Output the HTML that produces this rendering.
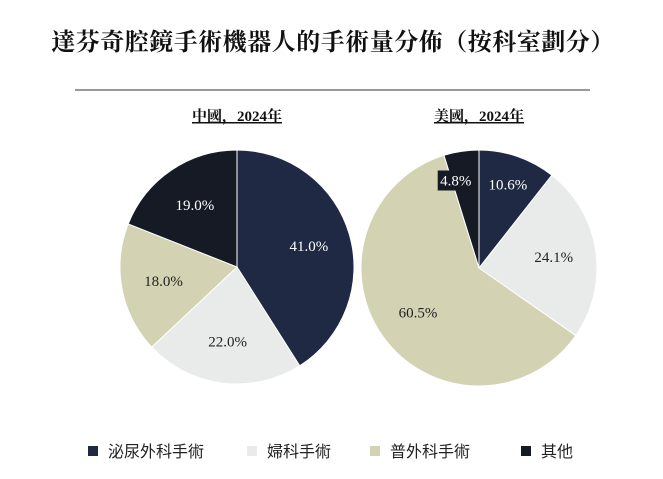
<!DOCTYPE html>
<html><head><meta charset="utf-8"><style>
body{margin:0;background:#fff;}
svg{display:block;font-family:"Liberation Serif","Noto Serif CJK SC",serif;}
</style></head><body>
<svg width="663" height="479" viewBox="0 0 663 479" xmlns="http://www.w3.org/2000/svg">
<text x="333" y="50" text-anchor="middle" font-size="24" font-weight="bold" letter-spacing="0.5" fill="#111">達芬奇腔鏡手術機器人的手術量分佈（按科室劃分）</text>
<line x1="75" y1="90" x2="590" y2="90" stroke="#333" stroke-width="1"/>
<text x="237" y="121" text-anchor="middle" font-size="15" font-weight="bold" text-decoration="underline" fill="#111">中國，2024年</text>
<text x="479" y="121" text-anchor="middle" font-size="15" font-weight="bold" text-decoration="underline" fill="#111">美國，2024年</text>
<g id="pies"></g>
<g id="legend" font-family="'Liberation Sans','Noto Sans CJK TC',sans-serif" font-size="16" fill="#222"></g>
</svg>
<script>
const categories = ["泌尿外科手術","婦科手術","普外科手術","其他"];
const chinaValues = [41.0, 22.0, 18.0, 19.0];
const usValues = [10.6, 24.1, 60.5, 4.8];
const colors = ["#1f2944","#e9ebea","#d3d3b3","#161a24"];
const textColors = ["#fff","#222","#222","#fff"];
const NS = "http://www.w3.org/2000/svg";
const pies = document.getElementById('pies');
function drawPie(vals, cx, cy, r, key) {
  const total = vals.reduce((a,b)=>a+b,0);
  let a0 = 0;
  const labels = [];
  vals.forEach((v,i)=>{
    const a1 = a0 + v/total*2*Math.PI;
    const x0 = cx + r*Math.sin(a0), y0 = cy - r*Math.cos(a0);
    const x1 = cx + r*Math.sin(a1), y1 = cy - r*Math.cos(a1);
    const large = (a1-a0) > Math.PI ? 1 : 0;
    const p = document.createElementNS(NS,'path');
    p.setAttribute('d',`M${cx},${cy}L${x0},${y0}A${r},${r} 0 ${large} 1 ${x1},${y1}Z`);
    p.setAttribute('fill',colors[i]);
    p.setAttribute('stroke','#fff');
    p.setAttribute('stroke-width','1');
    
    
    pies.appendChild(p);
    const frac = v/total;
    const am = (a0+a1)/2;
    const lr = r*(frac < 0.12 ? 0.75 : 0.64);
    let lx = cx + lr*Math.sin(am), ly = cy - lr*Math.cos(am);
    if (frac < 0.06) lx -= 10;
    labels.push({lx, ly, v, i, small: frac < 0.06});
    a0 = a1;
  });
  labels.forEach(o=>{
    if (o.small) {
      const b = document.createElementNS(NS,'rect');
      b.setAttribute('x', o.lx-18); b.setAttribute('y', o.ly-10);
      b.setAttribute('width', 36); b.setAttribute('height', 20);
      b.setAttribute('fill', colors[o.i]);
      
      
      pies.appendChild(b);
    }
    const t = document.createElementNS(NS,'text');
    t.setAttribute('x',o.lx); t.setAttribute('y',o.ly+5);
    t.setAttribute('text-anchor','middle');
    t.setAttribute('font-size','15');
    t.setAttribute('fill',textColors[o.i]);
    t.textContent = o.v.toFixed(1) + '%';
    
    
    pies.appendChild(t);
  });
}
drawPie(chinaValues, 237, 267, 117, 'china');
drawPie(usValues, 479, 268, 118, 'us');
const legend = document.getElementById('legend');
const lx = [88, 247, 370, 521];
categories.forEach((c,i)=>{
  const r = document.createElementNS(NS,'rect');
  r.setAttribute('x',lx[i]); r.setAttribute('y',446); r.setAttribute('width',10); r.setAttribute('height',10);
  r.setAttribute('fill',colors[i]);
  
  
  legend.appendChild(r);
  const t = document.createElementNS(NS,'text');
  t.setAttribute('x',lx[i]+20); t.setAttribute('y',457);
  t.textContent = c;
  
  
  legend.appendChild(t);
});
</script>
</body></html>
